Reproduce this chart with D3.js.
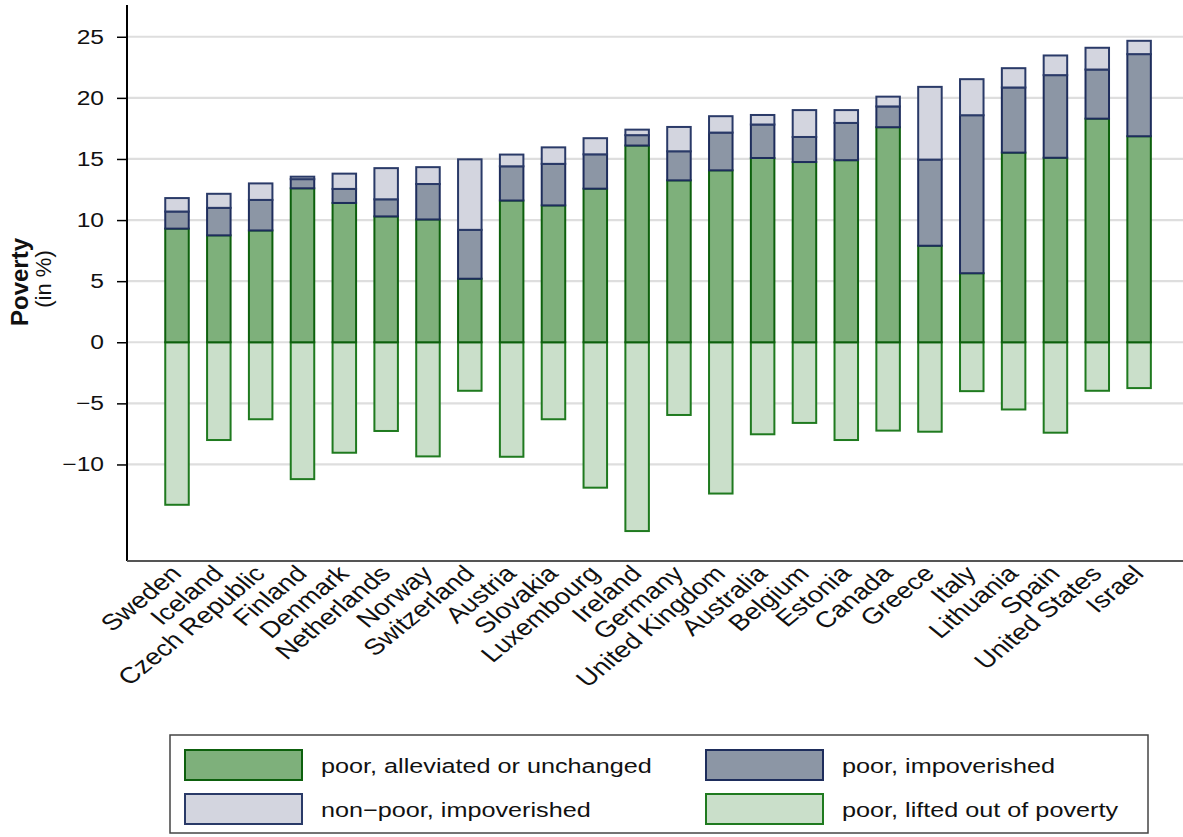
<!DOCTYPE html>
<html>
<head>
<meta charset="utf-8">
<script src="https://cdn.jsdelivr.net/npm/d3@7"></script>
<style>
  html, body { margin: 0; padding: 0; background: #fff; }
  svg { display: block; font-family: "Liberation Sans", Arial, Helvetica, sans-serif; }
</style>
</head>
<body>
<svg id="chart" width="1183" height="837"></svg>
<script>
// ---- data ----
const countries = ["Sweden","Iceland","Czech Republic","Finland","Denmark","Netherlands","Norway","Switzerland","Austria","Slovakia","Luxembourg","Ireland","Germany","United Kingdom","Australia","Belgium","Estonia","Canada","Greece","Italy","Lithuania","Spain","United States","Israel"];
// poor, alleviated or unchanged
const alleviated = [9.3,8.75,9.15,12.6,11.4,10.3,10.05,5.2,11.6,11.2,12.57,16.1,13.25,14.07,15.08,14.75,14.9,17.6,7.9,5.65,15.52,15.1,18.3,16.86];
// poor, impoverished
const poorImpoverished = [1.4,2.25,2.5,0.75,1.15,1.4,2.9,4.0,2.8,3.4,2.81,0.85,2.38,3.09,2.74,2.05,3.05,1.7,7.05,12.93,5.33,6.76,4.02,6.72];
// non-poor, impoverished
const nonPoorImpoverished = [1.1,1.15,1.35,0.2,1.25,2.55,1.38,5.77,0.96,1.35,1.32,0.45,1.99,1.34,0.78,2.2,1.05,0.8,5.95,2.95,1.58,1.61,1.78,1.09];
// poor, lifted out of poverty (negative)
const lifted = [-13.3,-8.0,-6.3,-11.2,-9.04,-7.26,-9.34,-3.97,-9.37,-6.3,-11.9,-15.45,-5.95,-12.38,-7.53,-6.6,-8.0,-7.23,-7.32,-4.0,-5.5,-7.4,-3.97,-3.75];
const yTicks = [-10,-5,0,5,10,15,20,25];
const legendLabels = ["poor, alleviated or unchanged","poor, impoverished","non\u2212poor, impoverished","poor, lifted out of poverty"];

// ---- styles ----
const styles = {
  alleviated: {fill: "#7eb07b", stroke: "#0d600d"},
  poorImp:    {fill: "#8c96a5", stroke: "#1e2d5c"},
  nonPoorImp: {fill: "#d3d5df", stroke: "#2a3a68"},
  lifted:     {fill: "#cadfca", stroke: "#1f7a1f"}
};
const SX = 1.23; // horizontal text stretch seen in the reference

const svg = d3.select("#chart");
const plotLeft = 127, plotRight = 1183, plotTop = 5, plotBottom = 561;

const x = d3.scaleBand().domain(countries).range([165.25, 1150.85]).paddingInner(0.438).paddingOuter(0);
const y = d3.scaleLinear().domain([-17.9, 27.6]).range([plotBottom, plotTop]);

// gridlines
svg.append("g").selectAll("line").data(yTicks).join("line")
  .attr("x1", plotLeft + 1).attr("x2", plotRight)
  .attr("y1", d => y(d)).attr("y2", d => y(d))
  .attr("stroke", "#dedede").attr("stroke-width", 2.2);

// build stacked segments
const rows = countries.map((c, i) => {
  const a = alleviated[i], p = poorImpoverished[i], n = nonPoorImpoverished[i];
  return [
    {c, y0: lifted[i], y1: 0, s: styles.lifted},
    {c, y0: 0, y1: a, s: styles.alleviated},
    {c, y0: a, y1: a + p, s: styles.poorImp},
    {c, y0: a + p, y1: a + p + n, s: styles.nonPoorImp}
  ];
}).flat();

svg.append("g").selectAll("rect").data(rows).join("rect")
  .attr("x", d => x(d.c))
  .attr("width", x.bandwidth())
  .attr("y", d => y(d.y1))
  .attr("height", d => y(d.y0) - y(d.y1))
  .attr("fill", d => d.s.fill)
  .attr("stroke", d => d.s.stroke)
  .attr("stroke-width", 2);

// y axis
const yAxis = d3.axisLeft(y).tickValues(yTicks).tickSize(10).tickPadding(0).tickFormat(d => d < 0 ? "\u2212" + Math.abs(d) : d);
const ya = svg.append("g").attr("transform", `translate(${plotLeft},0)`).call(yAxis);
ya.select(".domain").attr("d", `M0,${plotTop}V${plotBottom}`).attr("stroke", "#000").attr("stroke-width", 2);
ya.selectAll(".tick line").attr("stroke", "#000").attr("stroke-width", 1.5);
ya.selectAll(".tick text")
  .attr("x", null)
  .attr("transform", `translate(-23,0) scale(${SX},1)`)
  .attr("font-size", 20).attr("fill", "#111");

// bottom axis line
svg.append("line").attr("x1", plotLeft).attr("x2", plotRight).attr("y1", plotBottom).attr("y2", plotBottom)
  .attr("stroke", "#555").attr("stroke-width", 2);

// x labels
svg.append("g").selectAll("text").data(countries).join("text")
  .attr("transform", d => `translate(${x(d) + x.bandwidth()/2 + 6},${plotBottom + 14}) scale(${SX},1) rotate(-45)`)
  .attr("text-anchor", "end")
  .attr("font-size", 22.5)
  .attr("fill", "#111")
  .text(d => d);

// y title
svg.append("text").attr("transform", "translate(28,282) rotate(-90)")
  .attr("text-anchor", "middle").attr("font-size", 24).attr("font-weight", "bold").attr("fill", "#111")
  .text("Poverty");
svg.append("text").attr("transform", "translate(51,279) rotate(-90)")
  .attr("text-anchor", "middle").attr("font-size", 22).attr("fill", "#111")
  .text("(in %)");

// legend
const lg = svg.append("g");
lg.append("rect").attr("x", 170).attr("y", 735).attr("width", 978).attr("height", 98)
  .attr("fill", "#fff").attr("stroke", "#444").attr("stroke-width", 1.5);
const legendItems = [
  {label: legendLabels[0], s: styles.alleviated, col: 0, row: 0},
  {label: legendLabels[1], s: styles.poorImp, col: 1, row: 0},
  {label: legendLabels[2], s: styles.nonPoorImp, col: 0, row: 1},
  {label: legendLabels[3], s: styles.lifted, col: 1, row: 1}
];
const colX = [185, 706], rowY = [750, 794];
const li = lg.selectAll("g.item").data(legendItems).join("g").attr("class", "item")
  .attr("transform", d => `translate(${colX[d.col]},${rowY[d.row]})`);
li.append("rect").attr("width", 117).attr("height", 30)
  .attr("fill", d => d.s.fill).attr("stroke", d => d.s.stroke).attr("stroke-width", 2);
li.append("text").attr("transform", `translate(136,23) scale(${SX},1)`)
  .attr("font-size", 20.5).attr("fill", "#111").text(d => d.label);
</script>
</body>
</html>
